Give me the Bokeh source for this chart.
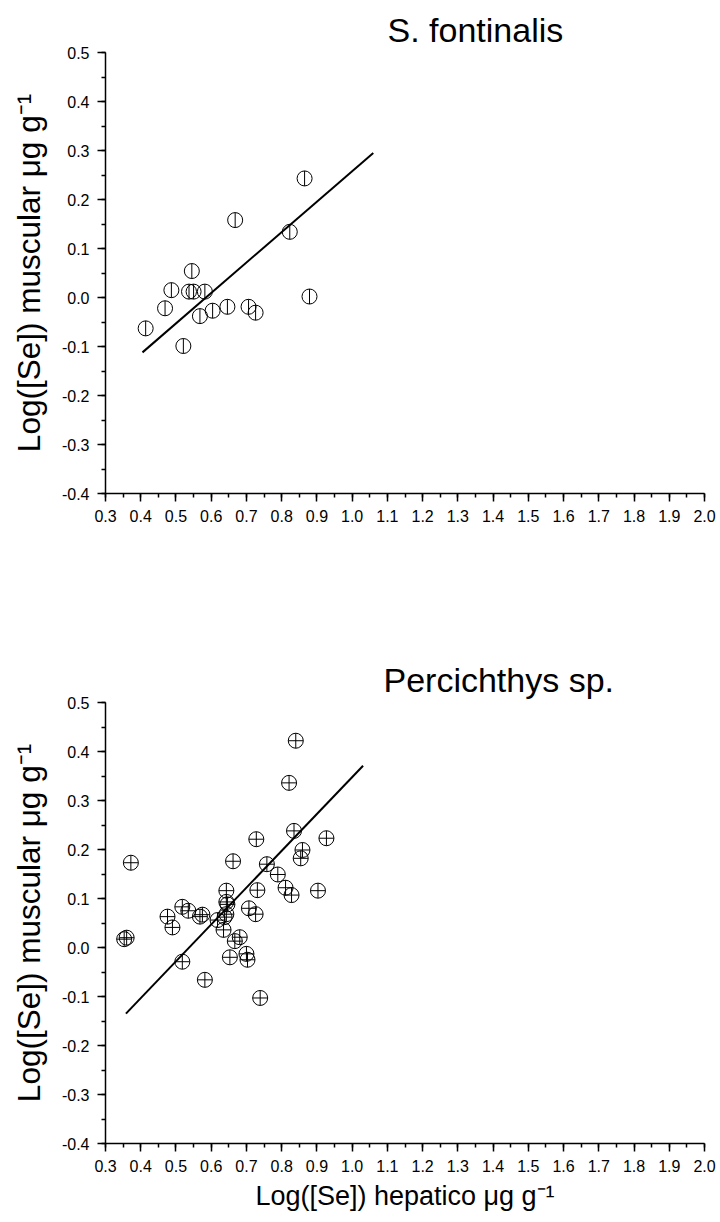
import math
from bokeh.plotting import figure
from bokeh.layouts import column
from bokeh.models import SingleIntervalTicker, Range1d, NumeralTickFormatter
from bokeh.embed import file_html
from bokeh.resources import INLINE

FONT = "Liberation Sans"

# S. fontinalis: log hepatic vs log muscular Se
sf_hep = [0.865, 0.668, 0.823, 0.545, 0.487, 0.537, 0.550, 0.582, 0.879,
          0.469, 0.646, 0.706, 0.726, 0.604, 0.568, 0.414, 0.521]
sf_mus = [0.243, 0.158, 0.134, 0.054, 0.015, 0.012, 0.012, 0.012, 0.002,
          -0.022, -0.019, -0.019, -0.031, -0.027, -0.038, -0.063, -0.099]
sf_fit_x = [0.405, 1.060]
sf_fit_y = [-0.112, 0.295]

# Percichthys sp.
pc_hep = [0.840, 0.821, 0.835, 0.728, 0.927, 0.372, 0.662, 0.859, 0.854, 0.758,
          0.789, 0.811, 0.828, 0.903, 0.731, 0.643, 0.643, 0.646, 0.518, 0.535,
          0.707, 0.726, 0.476, 0.568, 0.575, 0.643, 0.638, 0.618, 0.490, 0.635,
          0.360, 0.353, 0.681, 0.667, 0.700, 0.703, 0.653, 0.518, 0.582, 0.739]
pc_mus = [0.422, 0.336, 0.238, 0.221, 0.223, 0.173, 0.176, 0.199, 0.182, 0.170,
          0.149, 0.122, 0.107, 0.116, 0.117, 0.116, 0.093, 0.088, 0.083, 0.075,
          0.080, 0.068, 0.063, 0.063, 0.067, 0.068, 0.062, 0.056, 0.041, 0.036,
          0.020, 0.017, 0.021, 0.013, -0.013, -0.025, -0.020, -0.029, -0.066, -0.103]
pc_fit_x = [0.358, 1.031]
pc_fit_y = [-0.135, 0.371]

x_start, x_end = 0.3, 2.0
y_start, y_end = -0.4, 0.5
y_label = "Log([Se]) muscular \u03bcg g\u207b\u00b9"
x_label = "Log([Se]) hepatico \u03bcg g\u207b\u00b9"


def make_fig(height, top, bottom, title, title_offset):
    p = figure(width=720, height=height,
               x_range=Range1d(x_start, x_end), y_range=Range1d(y_start, y_end),
               output_backend="svg", toolbar_location=None,
               min_border_left=105, min_border_right=16,
               min_border_top=top, min_border_bottom=bottom,
               title=title)
    p.title.text_font = FONT
    p.title.text_font_size = "34px"
    p.title.text_font_style = "normal"
    p.title.text_color = "black"
    p.title.align = "left"
    p.title.offset = title_offset
    p.title.standoff = 8
    p.outline_line_color = None
    p.xgrid.visible = False
    p.ygrid.visible = False
    p.background_fill_color = "white"
    p.border_fill_color = "white"
    for ax in (p.xaxis[0], p.yaxis[0]):
        ax.ticker = SingleIntervalTicker(interval=0.1, num_minor_ticks=2)
        ax.formatter = NumeralTickFormatter(format="0.0")
        ax.axis_line_width = 1.5
        ax.axis_line_color = "black"
        ax.major_tick_line_width = 1.5
        ax.minor_tick_line_width = 1.5
        ax.major_tick_line_color = "black"
        ax.minor_tick_line_color = "black"
        ax.major_tick_out = 8
        ax.major_tick_in = 0
        ax.minor_tick_out = 4
        ax.minor_tick_in = 0
        ax.major_label_text_font = FONT
        ax.major_label_text_font_size = "16px"
        ax.major_label_text_color = "black"
        ax.axis_label_text_font = FONT
        ax.axis_label_text_font_style = "normal"
        ax.axis_label_text_color = "black"
    p.xaxis.major_label_standoff = 8
    p.yaxis.major_label_standoff = 8
    p.yaxis.axis_label = y_label
    p.yaxis.axis_label_text_font_size = "31.5px"
    p.yaxis.axis_label_standoff = 12
    return p


p1 = make_fig(611, 52, 118, "S. fontinalis", 282)
p1.scatter(sf_hep, sf_mus, marker="circle", size=15, fill_color=None,
           line_color="black", line_width=1)
p1.scatter(sf_hep, sf_mus, marker="dash", angle=math.pi / 2, size=15,
           line_color="black", line_width=1)
p1.line(sf_fit_x, sf_fit_y, line_color="black", line_width=2)

p2 = make_fig(611, 91, 79, "Percichthys sp.", 278)
p2.scatter(pc_hep, pc_mus, marker="circle_cross", size=15, fill_color=None,
           line_color="black", line_width=1)
p2.line(pc_fit_x, pc_fit_y, line_color="black", line_width=2)
p2.xaxis.axis_label = x_label
p2.xaxis.axis_label_text_font_size = "27px"
p2.xaxis.axis_label_standoff = 6

layout = column(p1, p2, spacing=0)
open("out.html", "w").write(file_html(layout, INLINE))
